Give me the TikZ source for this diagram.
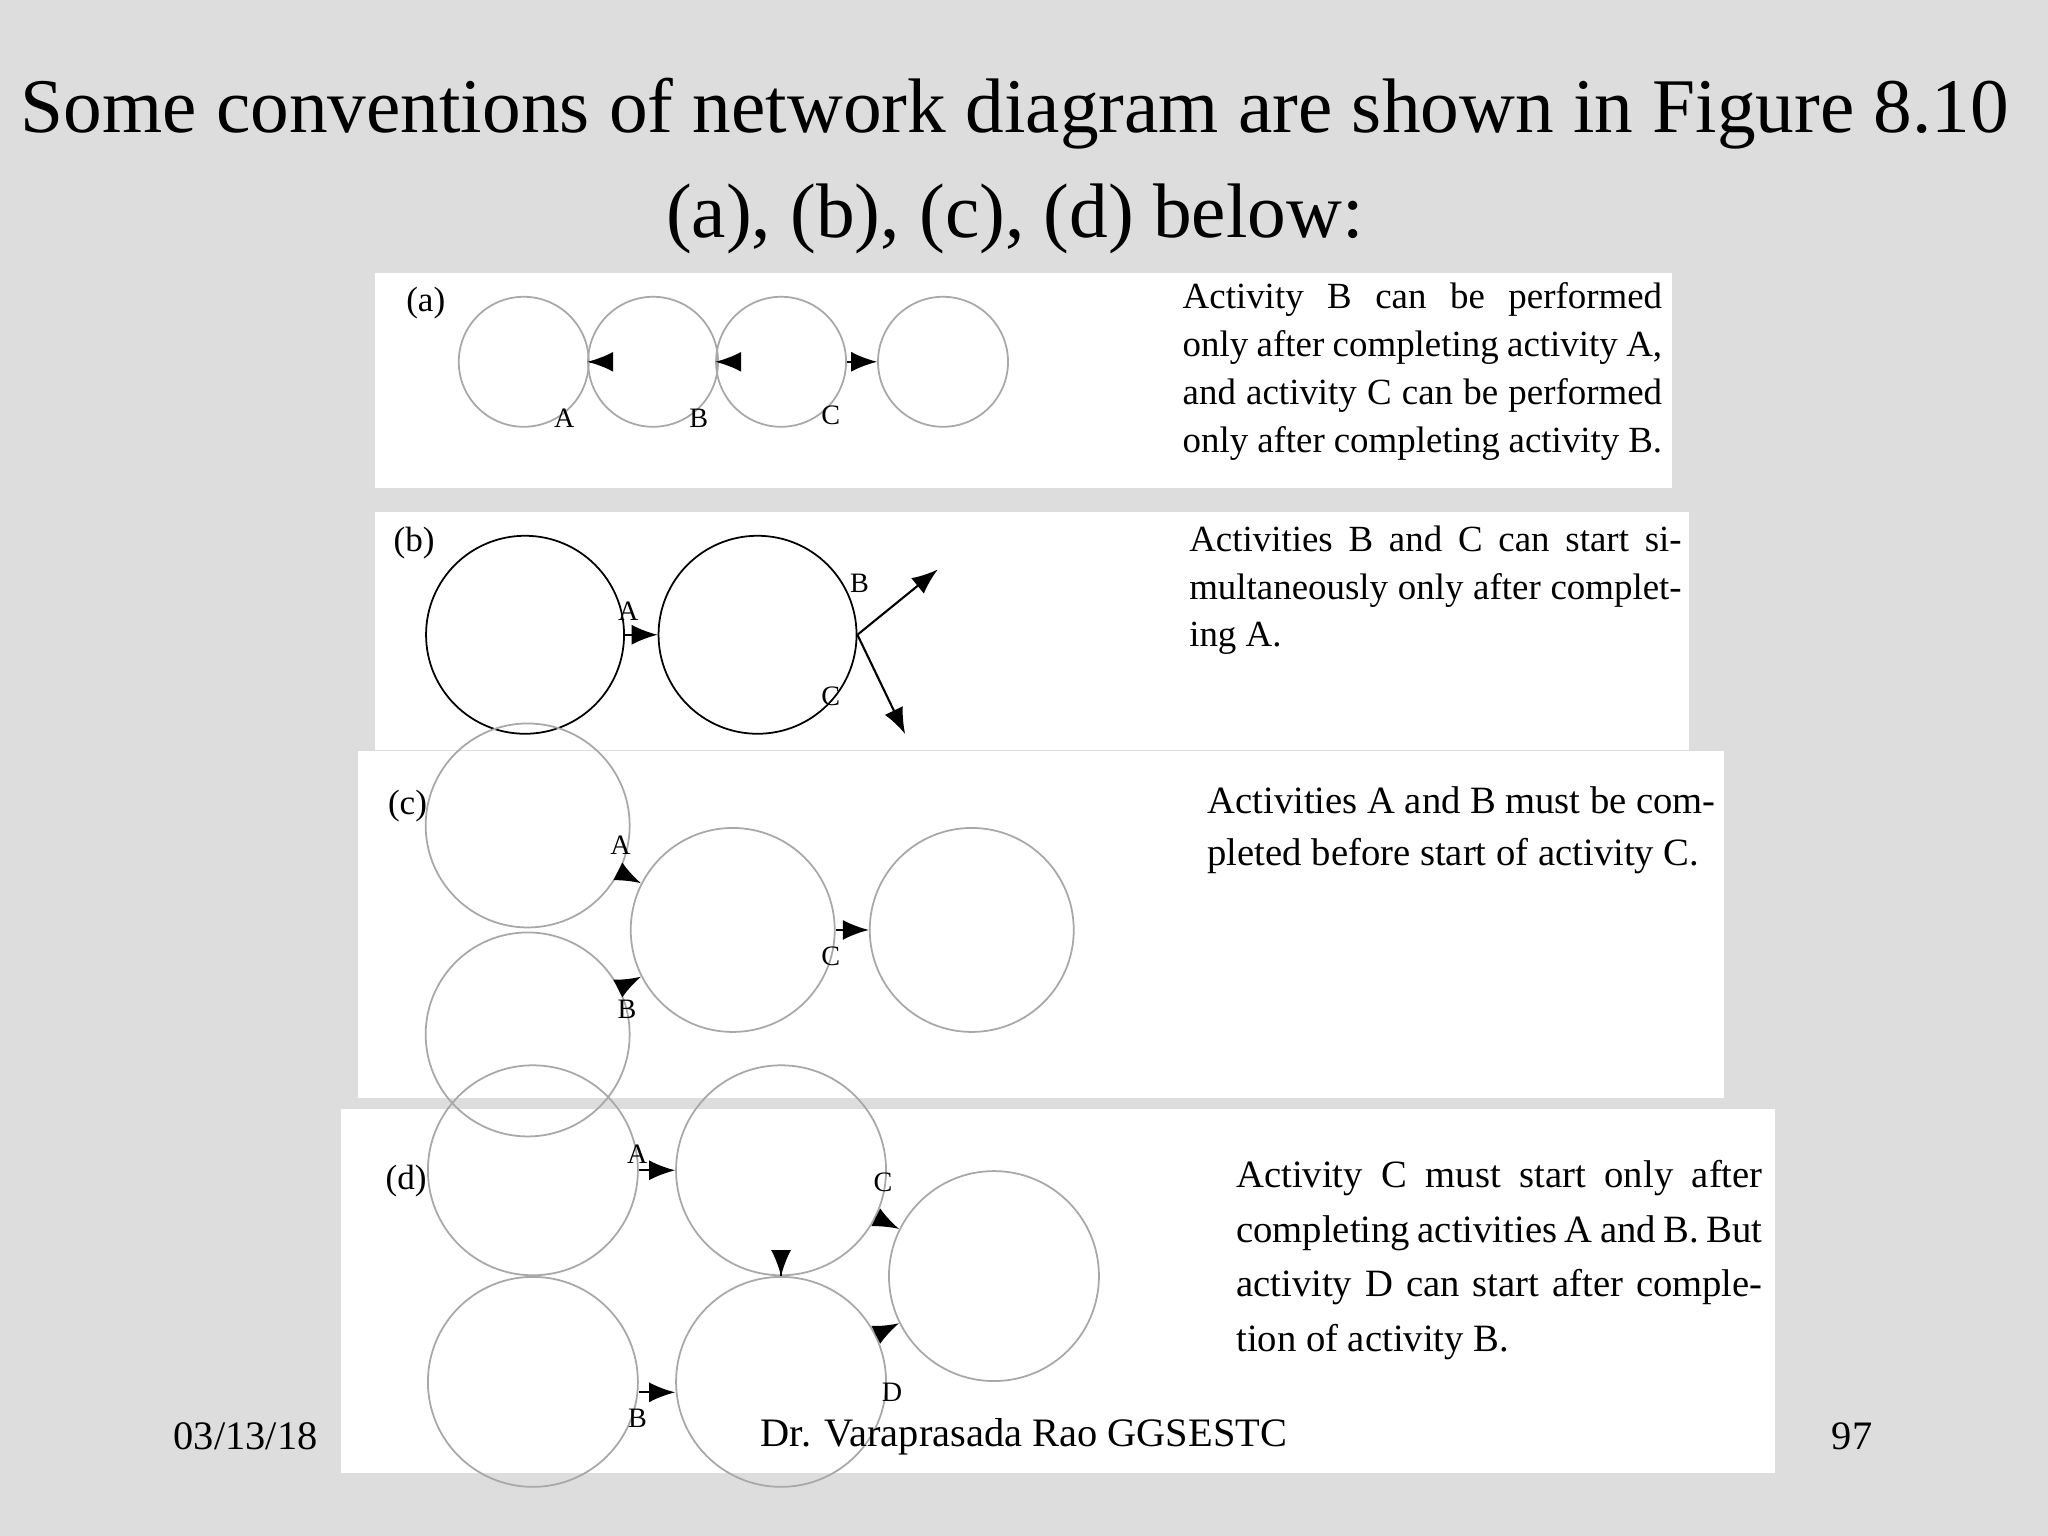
\documentclass[tikz,border=0pt]{standalone}
\usepackage{fontspec}
\setmainfont{Liberation Serif}
\usetikzlibrary{arrows.meta}
\definecolor{slidegray}{HTML}{DDDDDD}
\definecolor{ringgray}{HTML}{A8A8A8}
\tikzset{
  event/.style={circle,draw=ringgray,line width=0.5pt,minimum size=#1,inner sep=0pt},
  event/.default=19.5mm,
  act/.style={-{Latex[length=2.6mm,width=2mm]},line width=0.6pt},
  lab/.style={font=\fontsize{8}{9}\selectfont},
  note/.style={align=justify,anchor=north west,inner sep=0pt,
    font=\fontsize{10.5}{13.6}\selectfont},
  panel/.style={fill=white,draw=none}
}
\begin{document}
\begin{tikzpicture}[x=0.01306cm,y=-0.01306cm]
  % Slide
  \fill[slidegray] (0,0) rectangle (1568,1176);
  \useasboundingbox (0,0) rectangle (1568,1176);
  \node[font=\fontsize{22}{30}\selectfont,align=center] (title) at (777,127)
    {Some conventions of network diagram are shown in Figure 8.10\\(a), (b), (c), (d) below:};

  % Panels
  \fill[panel] (287,209) rectangle (1280,374);
  \fill[panel] (287,392) rectangle (1293,574);
  \fill[panel] (274,575) rectangle (1320,841);
  \fill[panel] (261,849) rectangle (1359,1128);

  % (a)
  \node[lab,font=\fontsize{10}{12}\selectfont] (pa) at (326,232) {(a)};
  \node[event=13mm] (a1) at (401,277) {};
  \node[event=13mm] (a2) at (500,277) {};
  \node[event=13mm] (a3) at (598,277) {};
  \node[event=13mm] (a4) at (722,277) {};
  \draw[act] (a1) -- (a2);
  \draw[act] (a2) -- (a3);
  \draw[act] (a3) -- (a4);
  \node[lab] (la) at (432,320) {A};
  \node[lab] (lb) at (535,320) {B};
  \node[lab] (lc) at (636,318) {C};
  \node[note,text width=367*0.01306cm] (ta) at (905,216)
    {Activity B can be performed only after completing activity A, and activity C can be performed only after completing activity B.};

  % (b)
  \node[lab,font=\fontsize{10}{12}\selectfont] (pb) at (317,416) {(b)};
  \node[event=19.8mm,draw=black] (b1) at (402,486) {};
  \node[event=19.8mm,draw=black] (b2) at (580,486) {};
  \coordinate (bB) at (718,436);
  \coordinate (bC) at (693,562);
  \draw[act] (b1) -- (b2);
  \draw[act] (b2.east) -- (bB);
  \draw[act] (b2.east) -- (bC);
  \node[lab] (lbA) at (481,468) {A};
  \node[lab] (lbB) at (658,447) {B};
  \node[lab] (lbC) at (636,533) {C};
  \node[note,text width=377*0.01306cm] (tb) at (910,402)
    {Activities B and C can start simultaneously only after completing A.};

  % (c)
  \node[lab,font=\fontsize{10}{12}\selectfont] (pc) at (312,617) {(c)};
  \node[event=20.4mm] (c1) at (404,632) {};
  \node[event=20.4mm] (c2) at (404,792) {};
  \node[event=20.4mm] (c3) at (561,712) {};
  \node[event=20.4mm] (c4) at (744,712) {};
  \draw[act] (c1) -- (c3);
  \draw[act] (c2) -- (c3);
  \draw[act] (c3) -- (c4);
  \node[lab] (lcA) at (475,647) {A};
  \node[lab] (lcB) at (480,773) {B};
  \node[lab] (lcC) at (636,732) {C};
  \node[note,text width=389*0.01306cm,font=\fontsize{11}{14.8}\selectfont] (tc) at (924,602)
    {Activities A and B must be completed before start of activity C.};

  % (d)
  \node[lab,font=\fontsize{10}{12}\selectfont] (pd) at (311,904) {(d)};
  \node[event=21mm] (d1) at (408,896) {};
  \node[event=21mm] (d2) at (598,896) {};
  \node[event=21mm] (d3) at (408,1058) {};
  \node[event=21mm] (d4) at (598,1058) {};
  \node[event=21mm] (d5) at (761,977) {};
  \draw[act] (d1) -- (d2);
  \draw[act] (d3.east) ++(0,8) coordinate (d3e) -- (d4.west |- d3e);
  \draw[act,dashed] (d4) -- (d2);
  \draw[act] (d2) -- (d5);
  \draw[act] (d4) -- (d5);
  \node[lab] (ldA) at (488,884) {A};
  \node[lab] (ldB) at (488,1086) {B};
  \node[lab] (ldC) at (676,905) {C};
  \node[lab] (ldD) at (683,1066) {D};
  \node[note,text width=403*0.01306cm,font=\fontsize{11}{15.5}\selectfont] (td) at (946,888)
    {Activity C must start only after completing activities A and B. But activity D can start after completion of activity B.};

  % Footer
  \node[font=\fontsize{11.5}{13}\selectfont] (date) at (188,1100) {03/13/18};
  \node[font=\fontsize{11.5}{13}\selectfont] (auth) at (784,1100) {Dr. Varaprasada Rao GGSESTC};
  \node[font=\fontsize{11.5}{13}\selectfont] (page) at (1418,1100) {97};
\end{tikzpicture}
\end{document}
